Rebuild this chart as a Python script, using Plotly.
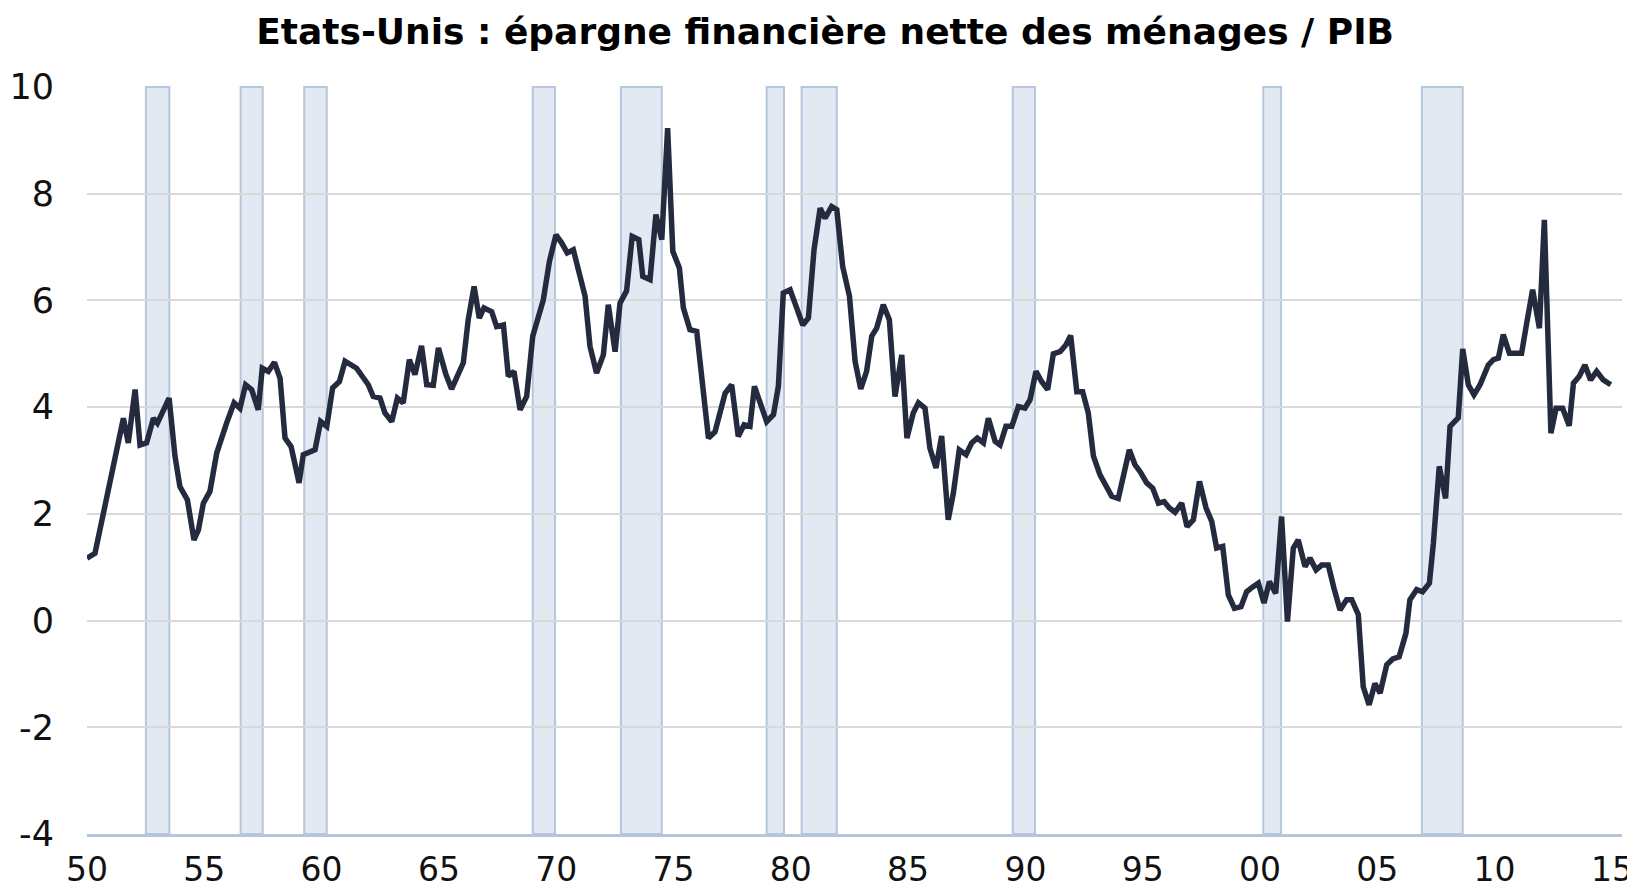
import plotly.graph_objects as go

# Epargne financiere nette des menages / PIB (Etats-Unis), % du PIB
YEARS = [
    1950.00, 1950.34, 1951.55, 1951.76, 1952.05, 1952.26, 1952.54, 1952.83, 1953.00, 1953.50,
    1953.75, 1953.96, 1954.28, 1954.56, 1954.75, 1954.96, 1955.24, 1955.53, 1955.95, 1956.27,
    1956.52, 1956.76, 1957.02, 1957.30, 1957.47, 1957.73, 1957.99, 1958.23, 1958.44, 1958.70,
    1959.04, 1959.22, 1959.72, 1959.96, 1960.22, 1960.47, 1960.76, 1961.00, 1961.49, 1961.71,
    1961.99, 1962.20, 1962.49, 1962.70, 1962.99, 1963.23, 1963.48, 1963.74, 1963.98, 1964.26,
    1964.48, 1964.76, 1964.98, 1965.30, 1965.54, 1966.04, 1966.25, 1966.50, 1966.72, 1966.92,
    1967.25, 1967.46, 1967.75, 1967.96, 1968.20, 1968.46, 1968.74, 1969.00, 1969.45, 1969.71,
    1969.99, 1970.23, 1970.47, 1970.73, 1970.94, 1971.23, 1971.44, 1971.72, 1972.01, 1972.22,
    1972.51, 1972.72, 1973.00, 1973.24, 1973.52, 1973.69, 1974.00, 1974.25, 1974.50, 1974.75,
    1974.97, 1975.25, 1975.42, 1975.70, 1975.99, 1976.49, 1976.77, 1977.20, 1977.48, 1977.76,
    1978.01, 1978.26, 1978.45, 1978.97, 1979.26, 1979.47, 1979.68, 1979.97, 1980.25, 1980.51,
    1980.75, 1980.99, 1981.25, 1981.46, 1981.74, 1981.96, 1982.21, 1982.50, 1982.74, 1982.98,
    1983.23, 1983.45, 1983.66, 1983.94, 1984.20, 1984.44, 1984.73, 1984.95, 1985.22, 1985.44,
    1985.72, 1985.93, 1986.19, 1986.43, 1986.71, 1986.93, 1987.18, 1987.47, 1987.71, 1987.95,
    1988.21, 1988.42, 1988.71, 1988.92, 1989.17, 1989.42, 1989.70, 1989.98, 1990.20, 1990.45,
    1990.69, 1990.95, 1991.19, 1991.48, 1991.73, 1991.93, 1992.19, 1992.44, 1992.68, 1992.90,
    1993.18, 1993.39, 1993.68, 1993.96, 1994.43, 1994.67, 1994.89, 1995.17, 1995.43, 1995.67,
    1995.91, 1996.14, 1996.38, 1996.66, 1996.89, 1997.16, 1997.42, 1997.70, 1997.94, 1998.15,
    1998.41, 1998.65, 1998.91, 1999.19, 1999.43, 1999.69, 1999.93, 2000.17, 2000.40, 2000.67,
    2000.92, 2001.17, 2001.42, 2001.63, 2001.92, 2002.13, 2002.39, 2002.63, 2002.91, 2003.15,
    2003.41, 2003.69, 2003.91, 2004.19, 2004.40, 2004.65, 2004.90, 2005.12, 2005.40, 2005.66,
    2005.93, 2006.22, 2006.39, 2006.68, 2006.93, 2007.22, 2007.39, 2007.64, 2007.91, 2008.10,
    2008.45, 2008.64, 2008.88, 2009.12, 2009.38, 2009.73, 2009.95, 2010.16, 2010.37, 2010.63,
    2010.87, 2011.15, 2011.37, 2011.62, 2011.91, 2012.12, 2012.40, 2012.62, 2012.90, 2013.18,
    2013.36, 2013.61, 2013.85, 2014.09, 2014.35, 2014.63, 2014.95,
]
SAVINGS = [
    1.17, 1.26, 3.79, 3.33, 4.33, 3.29, 3.33, 3.79, 3.70, 4.17,
    3.08, 2.51, 2.26, 1.51, 1.70, 2.20, 2.42, 3.14, 3.70, 4.08,
    3.98, 4.42, 4.33, 3.95, 4.73, 4.67, 4.84, 4.54, 3.42, 3.26,
    2.58, 3.11, 3.20, 3.73, 3.64, 4.36, 4.48, 4.86, 4.73, 4.61,
    4.42, 4.20, 4.17, 3.89, 3.73, 4.17, 4.08, 4.89, 4.61, 5.15,
    4.42, 4.41, 5.11, 4.61, 4.34, 4.83, 5.64, 6.26, 5.67, 5.86,
    5.79, 5.51, 5.54, 4.58, 4.67, 3.95, 4.20, 5.33, 6.01, 6.73,
    7.23, 7.08, 6.89, 6.95, 6.61, 6.08, 5.14, 4.64, 4.98, 5.92,
    5.04, 5.95, 6.18, 7.20, 7.14, 6.45, 6.39, 7.61, 7.14, 9.23,
    6.92, 6.61, 5.86, 5.45, 5.42, 3.42, 3.54, 4.26, 4.42, 3.45,
    3.67, 3.64, 4.39, 3.73, 3.86, 4.39, 6.14, 6.20, 5.86, 5.54,
    5.67, 6.95, 7.73, 7.54, 7.76, 7.70, 6.64, 6.08, 4.86, 4.34,
    4.67, 5.33, 5.48, 5.92, 5.64, 4.20, 4.98, 3.42, 3.89, 4.08,
    3.98, 3.23, 2.86, 3.46, 1.89, 2.39, 3.20, 3.11, 3.33, 3.42,
    3.33, 3.79, 3.36, 3.29, 3.64, 3.64, 4.01, 3.98, 4.14, 4.67,
    4.48, 4.33, 5.00, 5.04, 5.17, 5.34, 4.29, 4.29, 3.89, 3.08,
    2.73, 2.58, 2.33, 2.29, 3.20, 2.92, 2.79, 2.58, 2.48, 2.20,
    2.23, 2.11, 2.03, 2.20, 1.76, 1.89, 2.61, 2.11, 1.86, 1.36,
    1.39, 0.48, 0.23, 0.26, 0.54, 0.63, 0.70, 0.33, 0.73, 0.51,
    1.95, -0.02, 1.36, 1.51, 1.01, 1.17, 0.95, 1.04, 1.04, 0.61,
    0.20, 0.39, 0.39, 0.11, -1.24, -1.58, -1.18, -1.36, -0.83, -0.72,
    -0.68, -0.24, 0.39, 0.58, 0.54, 0.70, 1.45, 2.89, 2.29, 3.64,
    3.80, 5.09, 4.42, 4.23, 4.42, 4.79, 4.89, 4.92, 5.36, 5.01,
    5.01, 5.01, 5.58, 6.20, 5.48, 7.51, 3.51, 3.98, 3.98, 3.65,
    4.45, 4.58, 4.79, 4.51, 4.67, 4.51, 4.42,
]

# Recessions (bandes grisees)
RECESSION_START = [1952.51, 1956.55, 1959.26, 1969.00, 1972.76, 1978.97, 1980.46, 1989.46, 2000.14, 2006.90]
RECESSION_END = [1953.51, 1957.49, 1960.22, 1969.95, 1974.50, 1979.71, 1981.96, 1990.41, 2000.90, 2008.64]

TICK_YEARS = list(range(1950, 2016, 5))
TICK_LABELS = ["50", "55", "60", "65", "70", "75", "80", "85", "90", "95", "00", "05", "10", "15"]
Y_TICKS = [-4, -2, 0, 2, 4, 6, 8, 10]
Y_LABELS = ["-4", "-2", "0", "2", "4", "6", "8", "10"]

fig = go.Figure()

for x0, x1 in zip(RECESSION_START, RECESSION_END):
    fig.add_shape(
        type="rect", xref="x", yref="paper", x0=x0, x1=x1, y0=0, y1=1,
        fillcolor="#e3e9f2", line=dict(color="#b6c7dd", width=2), layer="below",
    )

fig.add_trace(go.Scatter(
    x=YEARS, y=SAVINGS,
    mode="lines",
    line=dict(color="#252b3f", width=5.5),
    showlegend=False,
))

# the page body adds an 8px offset, so the figure is placed 8px in from the window corner
fig.update_layout(
    width=1627, height=887,
    title=dict(
        text="<b>Etats-Unis : épargne financière nette des ménages / PIB</b>",
        font=dict(family="DejaVu Sans", size=36, color="#000000"),
        xref="container", yref="container",
        x=0.5022, y=0.974, xanchor="center", yanchor="middle",
    ),
    plot_bgcolor="white",
    paper_bgcolor="white",
    font=dict(family="DejaVu Sans", size=35, color="#111111"),
    margin=dict(l=79, r=13, t=79, b=61),
    xaxis=dict(
        range=[1950, 2015.43],
        tickvals=TICK_YEARS, ticktext=TICK_LABELS,
        tickfont=dict(size=33),
        showgrid=False, zeroline=False,
        showline=True, linecolor="#b4c6dc", linewidth=2.5,
        ticks="", ticklabelstandoff=5, automargin=False,
    ),
    yaxis=dict(
        range=[-4, 10], tickvals=Y_TICKS, ticktext=Y_LABELS,
        showgrid=True, gridcolor="#d9d9d9", gridwidth=1.5,
        zeroline=False, showline=False,
        ticks="", ticklabelstandoff=32, automargin=False,
    ),
)

fig.write_html("out.html")
